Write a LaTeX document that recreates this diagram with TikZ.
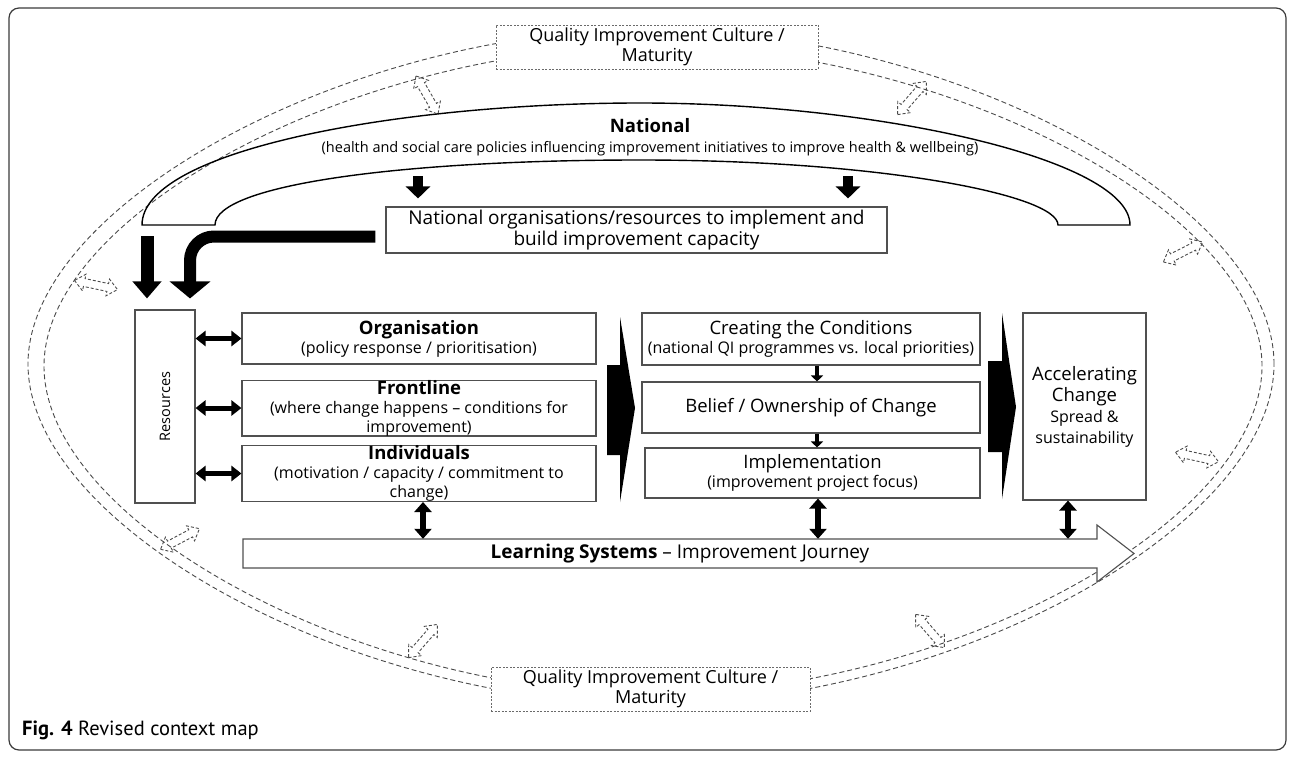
\documentclass[tikz,border=0pt]{standalone}
\usepackage{fontspec}
\setmainfont{Open Sans}
\newfontfamily\capfont{PT Sans}
\usetikzlibrary{arrows.meta}

\definecolor{framegray}{HTML}{3A3A3A}
\definecolor{boxgray}{HTML}{505050}
\definecolor{dashgray}{HTML}{4A4A4A}
\definecolor{dotgray}{HTML}{6A6A6A}

\newcommand{\subsz}{\fontsize{16}{18}\selectfont}
\newcommand{\natsz}{\fontsize{14.5}{17}\selectfont}

\tikzset{
  box/.style={draw=boxgray, line width=1.1pt, fill=white, inner sep=0pt, align=center, font=\fontsize{18.5}{19}\selectfont},
  qibox/.style={box, draw=dotgray, dash pattern=on 2pt off 1.5pt, line width=0.9pt, font=\fontsize{18}{20}\selectfont},
  qiline/.style={draw=dashgray, line width=0.9pt, dash pattern=on 5pt off 3pt},
  archline/.style={draw=black, line width=1.4pt},
  blkdbl/.style={line width=5pt, {Triangle[width=15pt,length=10pt]}-{Triangle[width=15pt,length=10pt]}},
  vdbl/.style={line width=6pt, {Triangle[width=17pt,length=10pt]}-{Triangle[width=17pt,length=10pt]}},
  smalldown/.style={line width=4pt, -{Triangle[width=12pt,length=6pt]}},
  natdown/.style={line width=10pt, -{Triangle[width=24pt,length=12pt]}},
  bigdown/.style={line width=13pt, -{Triangle[width=28pt,length=17pt]}},
  bigbend/.style={line width=12pt, rounded corners=24pt, -{Triangle[width=40pt,length=17pt]}},
  qiarrow/.pic={
    \draw[draw=dashgray, line width=0.9pt, dash pattern=on 3pt off 2pt]
      (-22,0) -- (-12,8.5) -- (-12,4) -- (12,4) -- (12,8.5) -- (22,0)
      -- (12,-8.5) -- (12,-4) -- (-12,-4) -- (-12,-8.5) -- cycle;
  }
}

\begin{document}
\begin{tikzpicture}[x=1pt,y=-1pt]
\useasboundingbox (0,0) rectangle (1292,757);

% outer frame
\draw[framegray, line width=1.2pt, rounded corners=10pt] (9,8) rectangle (1286,750);

% culture loop (two dashed rings)
\draw[qiline] (1274,364) .. controls (1274,203) and (950,29) .. (651,29)
  .. controls (352,29) and (28,203) .. (28,364)
  .. controls (28,527.2) and (352,704) .. (651,704)
  .. controls (950,704) and (1274,527.2) .. (1274,364);
\draw[qiline] (1262,366) .. controls (1262,211.4) and (945.3,46) .. (653,46)
  .. controls (360.7,46) and (44,211.4) .. (44,366)
  .. controls (44,523.4) and (360.7,694) .. (653,694)
  .. controls (945.3,694) and (1262,523.4) .. (1262,366);

% national arch
\draw[archline] (142,225) .. controls (142,150) and (400,103) .. (640,103)
  .. controls (880,103) and (1130,160) .. (1130,225) -- (1058,225)
  .. controls (1058,195) and (880,160) .. (640,160)
  .. controls (400,160) and (215,185) .. (215,225) -- cycle;
\node[align=center, font=\fontsize{18.5}{20}\selectfont] (nat) at (650,137)
  {\textbf{National}\\{\natsz(health and social care policies influencing improvement initiatives to improve health \& wellbeing)}};

% culture boxes
\node[qibox, minimum width=322pt, minimum height=44pt] (qitop) at (657,47)
  {Quality Improvement Culture /\\Maturity};
\node[qibox, minimum width=319pt, minimum height=44pt] (qibot) at (650.5,689)
  {Quality Improvement Culture /\\Maturity};

% national organisations
\node[box, minimum width=501pt, minimum height=46pt, font=\fontsize{19}{21}\selectfont] (natorg) at (636.5,230)
  {National organisations/resources to implement and\\build improvement capacity};
\draw[natdown] ([xshift=-218.5pt,yshift=30pt]natorg.north) -- ([xshift=-218.5pt,yshift=8pt]natorg.north);
\draw[natdown] ([xshift=211.5pt,yshift=30pt]natorg.north) -- ([xshift=211.5pt,yshift=8pt]natorg.north);

% resources
\node[box, minimum width=60pt, minimum height=193pt] (res) at (165,406.5) {};
\node[rotate=90, font=\fontsize{14.5}{17}\selectfont] (restext) at (res) {Resources};
\draw[bigdown] ([xshift=-18pt,yshift=73pt]res.north) -- ([xshift=-18pt,yshift=11pt]res.north);
\draw[bigbend] ([xshift=-10pt,yshift=-6.5pt]natorg.west) -| ([xshift=25pt,yshift=11pt]res.north);

% levels
\node[box, minimum width=354pt, minimum height=51pt] (org) at (419,338.5)
  {\textbf{Organisation}\\{\subsz(policy response / prioritisation)}};
\node[box, minimum width=354pt, minimum height=50pt] (front) at (419,408)
  {\textbf{Frontline}\\{\subsz(where change happens -- conditions for}\\{\subsz improvement)}};
\node[box, minimum width=354pt, minimum height=51pt] (indiv) at (419,473.5)
  {\textbf{Individuals}\\{\subsz(motivation / capacity / commitment to}\\{\subsz change)}};
\foreach \lvl in {org,front,indiv}
  \draw[blkdbl] (\lvl.west -| res.east) -- (\lvl.west);

% journey stages
\node[box, minimum width=338pt, minimum height=52pt] (cc) at (811,339)
  {Creating the Conditions\\{\subsz(national QI programmes vs. local priorities)}};
\node[box, minimum width=338pt, minimum height=51pt] (belief) at (811,407.5)
  {Belief / Ownership of Change};
\node[box, minimum width=335pt, minimum height=50pt] (impl) at (812.5,473)
  {Implementation\\{\subsz(improvement project focus)}};
\draw[smalldown] ([xshift=6pt]cc.south) -- ([xshift=6pt]belief.north);
\draw[smalldown] ([xshift=6pt]belief.south) -- ([xshift=4.5pt]impl.north);

\node[box, minimum width=123pt, minimum height=187pt, font=\fontsize{18.5}{21}\selectfont] (acc) at (1084.5,406.5)
  {Accelerating\\Change\\{\subsz Spread \&}\\{\subsz sustainability}};

% big chevrons
\fill (607,365) -- (620,365) -- (620,317) -- (635,408) -- (620,502) -- (620,455) -- (607,455) -- cycle;
\fill (988,361) -- (1002,361) -- (1002,313) -- (1016,407) -- (1002,499) -- (1002,452) -- (988,452) -- cycle;

% learning systems
\draw[boxgray, line width=1.1pt, fill=white] (243,539) -- (1097,539) -- (1097,525) -- (1134,553.5)
  -- (1097,582) -- (1097,568) -- (243,568) -- cycle;
\node[inner sep=0pt, minimum height=29pt, font=\fontsize{19}{20}\selectfont] (learn) at (680,553.5)
  {\textbf{Learning Systems} -- Improvement Journey};
\draw[vdbl] ([xshift=4pt]indiv.south) -- ([xshift=4pt]indiv.south |- learn.north);
\draw[vdbl] ([xshift=5.5pt]impl.south) -- ([xshift=5.5pt]impl.south |- learn.north);
\draw[vdbl] ([xshift=-16.5pt]acc.south) -- ([xshift=-16.5pt]acc.south |- learn.north);

% culture interaction arrows
\pic[rotate=-60] at (427,95) {qiarrow};
\pic[rotate=49] at (912,98) {qiarrow};
\pic[rotate=27] at (1183,252) {qiarrow};
\pic[rotate=-12.5] at (1197,457) {qiarrow};
\pic[rotate=-12] at (96,285) {qiarrow};
\pic[rotate=28] at (180,539) {qiarrow};
\pic[rotate=49] at (423,641) {qiarrow};
\pic[rotate=-49] at (930,631) {qiarrow};

% caption
\node[anchor=west, inner sep=0pt, font=\capfont\fontsize{20.5}{22}\selectfont] (cap) at (22,730)
  {\textbf{Fig. 4} Revised context map};
\end{tikzpicture}
\end{document}
